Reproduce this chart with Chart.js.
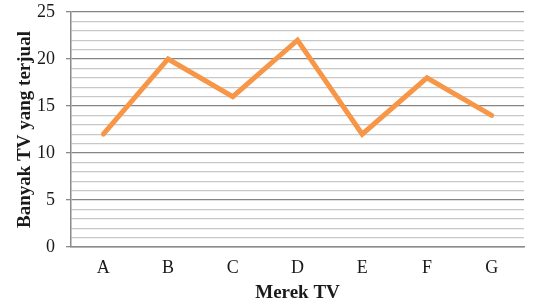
<!DOCTYPE html>
<html lang="id">
<head>
  <meta charset="UTF-8">
  <title>Penjualan TV</title>
  <script src="https://cdn.jsdelivr.net/npm/chart.js"></script>
  <style>
    html, body { margin: 0; padding: 0; background: #fff; }
    .chart-container { position: relative; width: 543px; height: 303px; }
  </style>
</head>
<body>
  <div class="chart-container">
    <canvas id="myChart"></canvas>
  </div>

  <script>
    // Data
    const brands = ['A', 'B', 'C', 'D', 'E', 'F', 'G'];
    const tvSold = [12, 20, 16, 22, 12, 18, 14];
    const yMin = 0;
    const yMax = 25;

    const serif = "'Liberation Serif', 'DejaVu Serif', serif";

    const ctx = document.getElementById('myChart').getContext('2d');
    const chart = new Chart(ctx, {
      type: 'line',
      data: {
        labels: brands,
        datasets: [{
          label: 'Banyak TV yang terjual',
          data: tvSold,
          borderColor: '#f79646',
          borderWidth: 5,
          borderCapStyle: 'round',
          borderJoinStyle: 'miter',
          pointRadius: 0,
          tension: 0,
          fill: false
        }]
      },
      options: {
        responsive: true,
        maintainAspectRatio: false,
        animation: false,
        layout: { padding: { top: 0, right: 19, bottom: 0, left: 12 } },
        plugins: {
          legend: { display: false },
          tooltip: { enabled: false }
        },
        scales: {
          x: {
            offset: true,
            // invisible tick marks give the gap between axis and labels
            grid: { drawOnChartArea: false, drawTicks: true, tickLength: 12, tickColor: 'rgba(0,0,0,0)' },
            border: { color: '#8a8a8a', width: 1.5 },
            ticks: {
              color: '#1a1a1a',
              padding: 0,
              font: { family: serif, size: 18, lineHeight: 1 }
            },
            title: {
              display: true,
              text: 'Merek TV',
              color: '#1a1a1a',
              padding: { top: 6.5, bottom: 0.5 },
              font: { family: serif, size: 19, weight: 'bold', lineHeight: 1 }
            }
          },
          y: {
            min: yMin,
            max: yMax,
            border: { color: '#8a8a8a', width: 1.5 },
            grid: {
              color: c => (c.tick.value % 5 === 0 ? '#858585' : '#c8c8c8'),
              lineWidth: 1.3,
              tickLength: 5,
              tickColor: c => (c.tick.value % 5 === 0 ? '#8a8a8a' : 'rgba(0,0,0,0)')
            },
            ticks: {
              stepSize: 1,
              autoSkip: false,
              color: '#1a1a1a',
              padding: 11,
              font: { family: serif, size: 18, lineHeight: 0.11 },
              callback: v => (v % 5 === 0 ? v : '')
            },
            title: {
              display: true,
              text: 'Banyak TV yang terjual',
              color: '#1a1a1a',
              padding: { top: 1.6, bottom: -10.4 },
              font: { family: serif, size: 19, weight: 'bold' }
            }
          }
        }
      }
    });
  </script>
</body>
</html>
